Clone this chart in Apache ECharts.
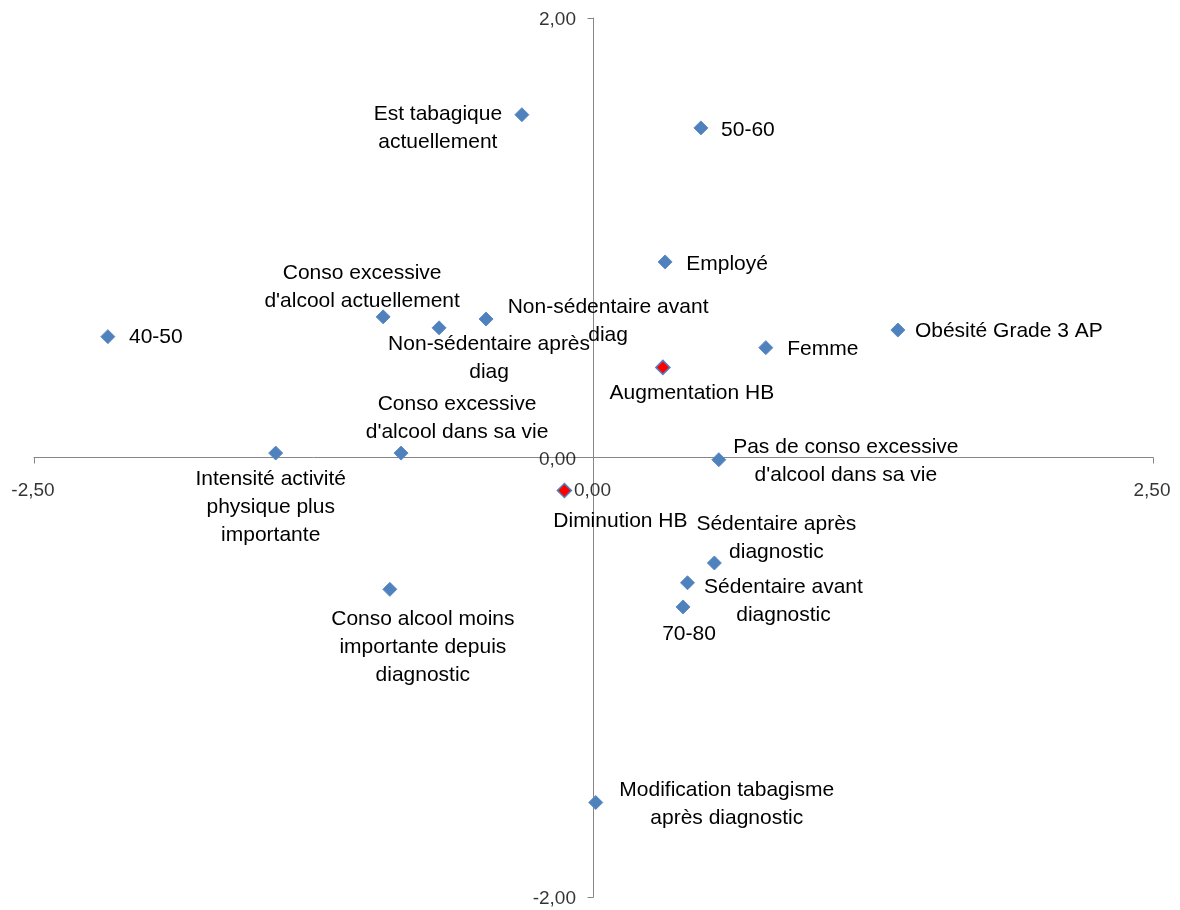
<!DOCTYPE html>
<html>
<head>
<meta charset="utf-8">
<script src="https://cdn.jsdelivr.net/npm/echarts@6/dist/echarts.min.js"></script>
<style>
  html, body { margin: 0; padding: 0; background: #fff; }
  #chart { width: 1180px; height: 910px; }
</style>
</head>
<body>
<div id="chart"></div>
<script>
// modalités (texte des étiquettes)
var labels = [
    'Est tabagique\nactuellement',
    '50-60',
    'Employé',
    'Obésité Grade 3 AP',
    'Femme',
    '40-50',
    "Conso excessive\nd'alcool actuellement",
    'Non-sédentaire après\ndiag',
    'Non-sédentaire avant\ndiag',
    "Conso excessive\nd'alcool dans sa vie",
    'Intensité activité\nphysique plus\nimportante',
    "Pas de conso excessive\nd'alcool dans sa vie",
    'Sédentaire après\ndiagnostic',
    'Sédentaire avant\ndiagnostic',
    '70-80',
    'Conso alcool moins\nimportante depuis\ndiagnostic',
    'Modification tabagisme\naprès diagnostic'
];
var xValues = [-0.32, 0.48, 0.32, 1.36, 0.77, -2.17, -0.94, -0.69, -0.48, -0.86, -1.42, 0.56, 0.54, 0.42, 0.40, -0.91, 0.01];
var yValues = [1.56, 1.50, 0.89, 0.58, 0.50, 0.55, 0.64, 0.59, 0.63, 0.02, 0.02, -0.01, -0.48, -0.57, -0.68, -0.60, -1.57];

// variables illustratives (en rouge)
var hbLabels = ['Augmentation HB', 'Diminution HB'];
var hbX = [0.31, -0.13];
var hbY = [0.41, -0.15];

// graduations des axes
var xTicks = [-2.5, 0, 2.5];
var yTicks = [-2, 0, 2];

// décalage des étiquettes par rapport au point (px)
var labelOffsets = [
    [-84, 14], [47, 2], [62, 2], [111, 1], [57, 2], [48, 1], [-21, -30], [50, 30],
    [122, 2], [56, -35], [-5, 54], [127, 2], [62, -25], [96, 18], [6, 27], [33, 58], [131, 2]
];
var hbOffsets = [[29, 26], [56, 31]];

var FONT = 'Liberation Sans';

var myChart = echarts.init(document.getElementById('chart'));

function fmt(v) {
    return v.toFixed(2).replace('.', ',');
}

function buildData(xs, ys, names, offsets) {
    return xs.map(function (x, i) {
        return {
            value: [x, ys[i]],
            name: names[i],
            label: { offset: offsets[i] }
        };
    });
}

var labelStyle = {
    show: true,
    position: 'inside',
    formatter: function (p) { return p.name; },
    color: '#000',
    fontFamily: FONT,
    fontSize: 21,
    lineHeight: 28,
    align: 'center'
};

// les étiquettes de graduation suivent les axes qui passent par zéro
var tickLabelStyle = {
    show: true,
    color: '#000',
    fontFamily: FONT,
    fontSize: 19,
    formatter: function (p) { return p.name; }
};

var axisCommon = {
    axisLine: { onZero: true, lineStyle: { color: '#868686', width: 1 } },
    axisTick: { show: true, length: 6, lineStyle: { color: '#868686' } },
    splitLine: { show: false },
    axisLabel: { show: false }
};

var option = {
    animation: false,
    grid: { left: 34, right: 27, top: 18, bottom: 13, containLabel: false, outerBoundsMode: 'none' },
    xAxis: Object.assign({}, axisCommon, { type: 'value', min: -2.5, max: 2.5, interval: 2.5 }),
    yAxis: Object.assign({}, axisCommon, { type: 'value', min: -2, max: 2, interval: 2 }),
    series: [
        {
            type: 'scatter',
            symbol: 'diamond',
            symbolSize: 14,
            itemStyle: { color: '#4F81BD', borderColor: '#5B8AC4', borderWidth: 1, opacity: 1 },
            label: labelStyle,
            data: buildData(xValues, yValues, labels, labelOffsets)
        },
        {
            type: 'scatter',
            symbol: 'diamond',
            symbolSize: 14,
            itemStyle: { color: '#FF0000', borderColor: '#4F81BD', borderWidth: 1.5, opacity: 1 },
            label: labelStyle,
            data: buildData(hbX, hbY, hbLabels, hbOffsets)
        },
        {
            type: 'scatter',
            silent: true,
            symbolSize: 1,
            itemStyle: { color: 'transparent' },
            label: Object.assign({}, tickLabelStyle, { position: 'inside', offset: [-1, 33] }),
            data: xTicks.map(function (v) { return { value: [v, 0], name: fmt(v) }; })
        },
        {
            type: 'scatter',
            silent: true,
            symbolSize: 1,
            itemStyle: { color: 'transparent' },
            label: Object.assign({}, tickLabelStyle, { position: 'left', distance: 17, offset: [0, 2] }),
            data: yTicks.map(function (v) { return { value: [0, v], name: fmt(v) }; })
        }
    ]
};

myChart.setOption(option);
</script>
</body>
</html>
